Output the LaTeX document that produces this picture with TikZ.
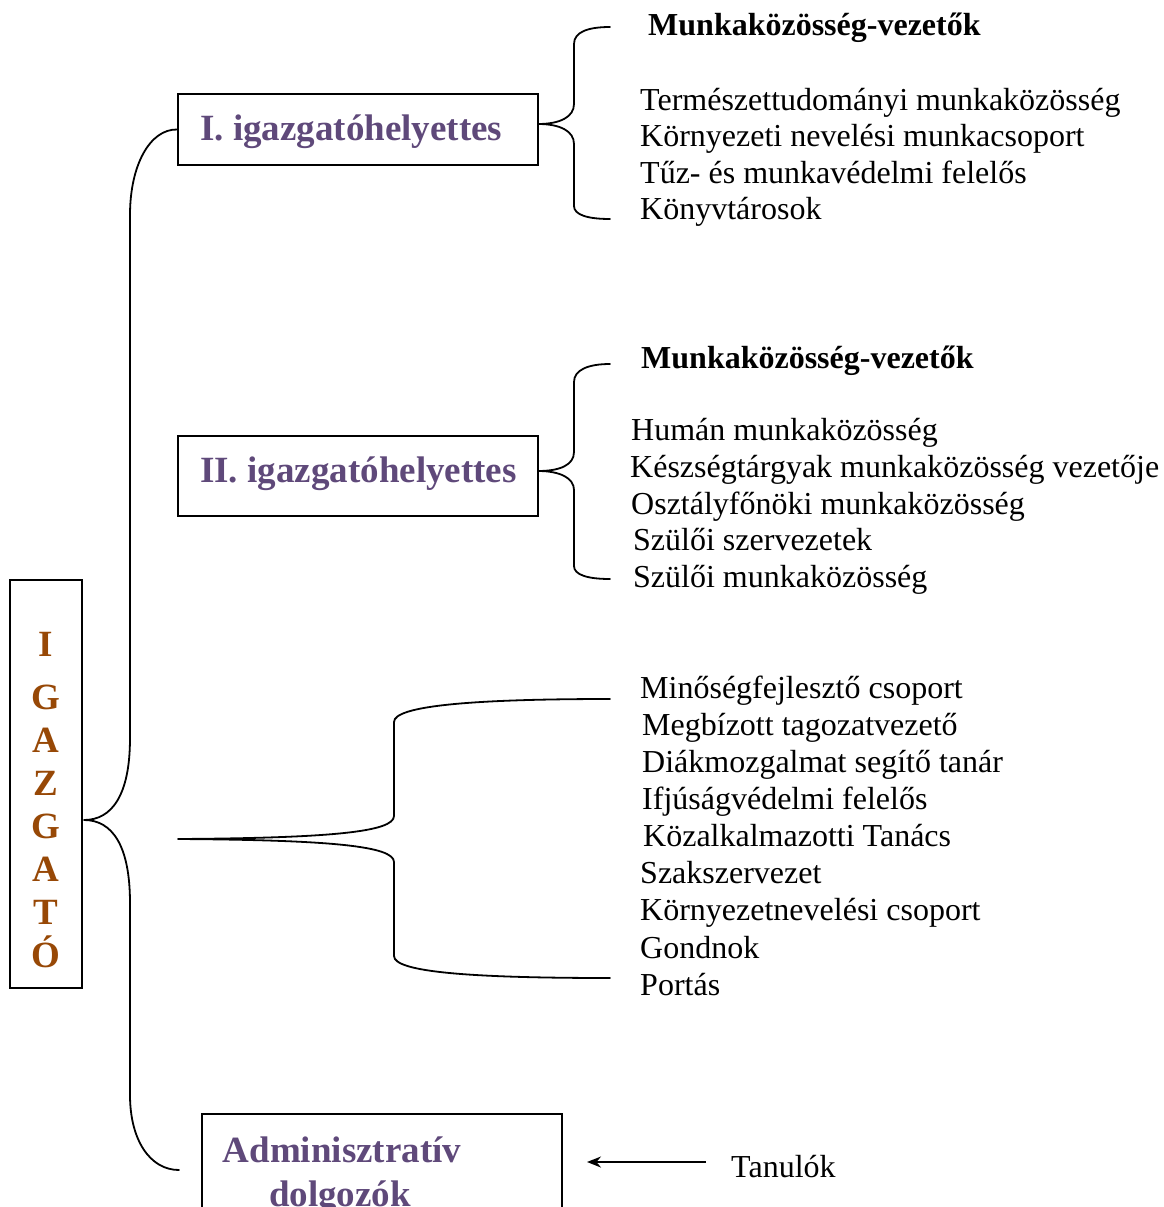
\documentclass[tikz,border=0pt]{standalone}
\usepackage{fontspec}
\setmainfont{Liberation Serif}
\usetikzlibrary{arrows.meta}
\definecolor{purp}{RGB}{95,73,122}
\definecolor{brn}{RGB}{151,72,6}
\begin{document}
\begin{tikzpicture}[x=1pt,y=-1pt,
  boxshape/.style={draw, line width=1.8pt, inner sep=0pt},
  boxlabel/.style={anchor=base west, inner sep=0pt, text=purp, font=\fontsize{37}{44}\selectfont\bfseries},
  vletter/.style={anchor=base, inner sep=0pt, text=brn, font=\fontsize{37}{44}\selectfont\bfseries},
  item/.style={anchor=base west, inner sep=0pt, font=\fontsize{32}{37}\selectfont},
  head/.style={anchor=base west, inner sep=0pt, font=\fontsize{32}{37}\selectfont\bfseries},
  brace/.style={line width=1.8pt, line cap=round, line join=round}]
\useasboundingbox (0,0) rectangle (1164,1207);
\clip (0,0) rectangle (1164,1207);

% boxes
\node[boxshape, minimum width=72pt, minimum height=408pt] (igaz) at (46,784) {};
\node[boxshape, minimum width=360pt, minimum height=71pt] (b1) at (358,129.5) {};
\node[boxshape, minimum width=360pt, minimum height=80pt] (b2) at (358,476) {};
\node[boxshape, minimum width=360pt, minimum height=130pt] (adm) at (382,1179) {};

% vertical letters
\node[vletter] (l1) at (46,656) {I};
\node[vletter] (l2) at (46,709) {G};
\node[vletter] (l3) at (46,752) {A};
\node[vletter] (l4) at (46,795) {Z};
\node[vletter] (l5) at (46,838) {G};
\node[vletter] (l6) at (46,881) {A};
\node[vletter] (l7) at (46,924) {T};
\node[vletter] (l8) at (46,967) {Ó};

% box labels
\node[boxlabel] (t1) at (200,140) {I. igazgatóhelyettes};
\node[boxlabel] (t2) at (200,482) {II. igazgatóhelyettes};
\node[anchor=base, inner sep=0pt, text=purp, font=\fontsize{37}{44}\selectfont\bfseries] (t3a) at (342,1162) {Adminisztratív};
\node[anchor=base, inner sep=0pt, text=purp, font=\fontsize{37}{44}\selectfont\bfseries] (t3b) at (340,1206) {dolgozók};

% list 1
\node[head] (h1) at (648,36) {Munkaközösség-vezetők};
\node[item] (a1) at (640,110) {Természettudományi munkaközösség};
\node[item] (a2) at (640,146.5) {Környezeti nevelési munkacsoport};
\node[item] (a3) at (640,183) {Tűz- és munkavédelmi felelős};
\node[item] (a4) at (640,219.5) {Könyvtárosok};

% list 2
\node[head] (h2) at (641,368) {Munkaközösség-vezetők};
\node[item] (c1) at (631,440) {Humán munkaközösség};
\node[item] (c2) at (630,477) {Készségtárgyak munkaközösség vezetője};
\node[item] (c3) at (631,514) {Osztályfőnöki munkaközösség};
\node[item] (c4) at (633,550) {Szülői szervezetek};
\node[item] (c5) at (633,587) {Szülői munkaközösség};

% list 3
\node[item] (d1) at (640,698) {Minőségfejlesztő csoport};
\node[item] (d2) at (642,735) {Megbízott tagozatvezető};
\node[item] (d3) at (642,772) {Diákmozgalmat segítő tanár};
\node[item] (d4) at (642,809) {Ifjúságvédelmi felelős};
\node[item] (d5) at (643,846) {Közalkalmazotti Tanács};
\node[item] (d6) at (640,883) {Szakszervezet};
\node[item] (d7) at (640,920) {Környezetnevelési csoport};
\node[item] (d8) at (640,958) {Gondnok};
\node[item] (d9) at (640,995) {Portás};

% Tanulók
\node[item] (tan) at (731,1177) {Tanulók};

% coordinates for brace ends
\coordinate (tipA) at (84,820);
\coordinate (endA) at (179,1170);
\coordinate (tip1) at (538,124);
\coordinate (top1) at (610,27);
\coordinate (bot1) at (610,219);
\coordinate (tip2) at (538,471);
\coordinate (top2) at (610,364);
\coordinate (bot2) at (610,579);
\coordinate (tip3) at (178,839);
\coordinate (top3) at (610,699);
\coordinate (bot3) at (610,978);
\coordinate (arrS) at (706,1162);
\coordinate (arrE) at (587,1162);

% big brace
\draw[brace] (b1.west) .. controls (150,129) and (130,165) .. (130,215)
  -- (130,738) .. controls (130,795) and (112,820) .. (tipA)
  .. controls (112,820) and (130,845) .. (130,903)
  -- (130,1095) .. controls (130,1140) and (150,1170) .. (endA);

% brace 1
\draw[brace] (top1) .. controls (588,27) and (574,32) .. (574,44)
  -- (574,104) .. controls (574,117) and (560,124) .. (tip1)
  .. controls (560,124) and (574,131) .. (574,144)
  -- (574,206) .. controls (574,215) and (588,219) .. (bot1);

% brace 2
\draw[brace] (top2) .. controls (588,364) and (574,370) .. (574,382)
  -- (574,452) .. controls (574,465) and (560,471) .. (tip2)
  .. controls (560,471) and (574,478) .. (574,490)
  -- (574,566) .. controls (574,575) and (588,579) .. (bot2);

% brace 3
\draw[brace] (top3) .. controls (470,699) and (394,706) .. (394,722)
  -- (394,816) .. controls (394,832) and (330,838) .. (tip3)
  .. controls (330,840) and (394,846) .. (394,862)
  -- (394,956) .. controls (394,972) and (470,978) .. (bot3);

% arrow
\draw[line width=1.8pt, -{Stealth[length=14pt,width=11pt]}] (arrS) -- (arrE);
\end{tikzpicture}
\end{document}
